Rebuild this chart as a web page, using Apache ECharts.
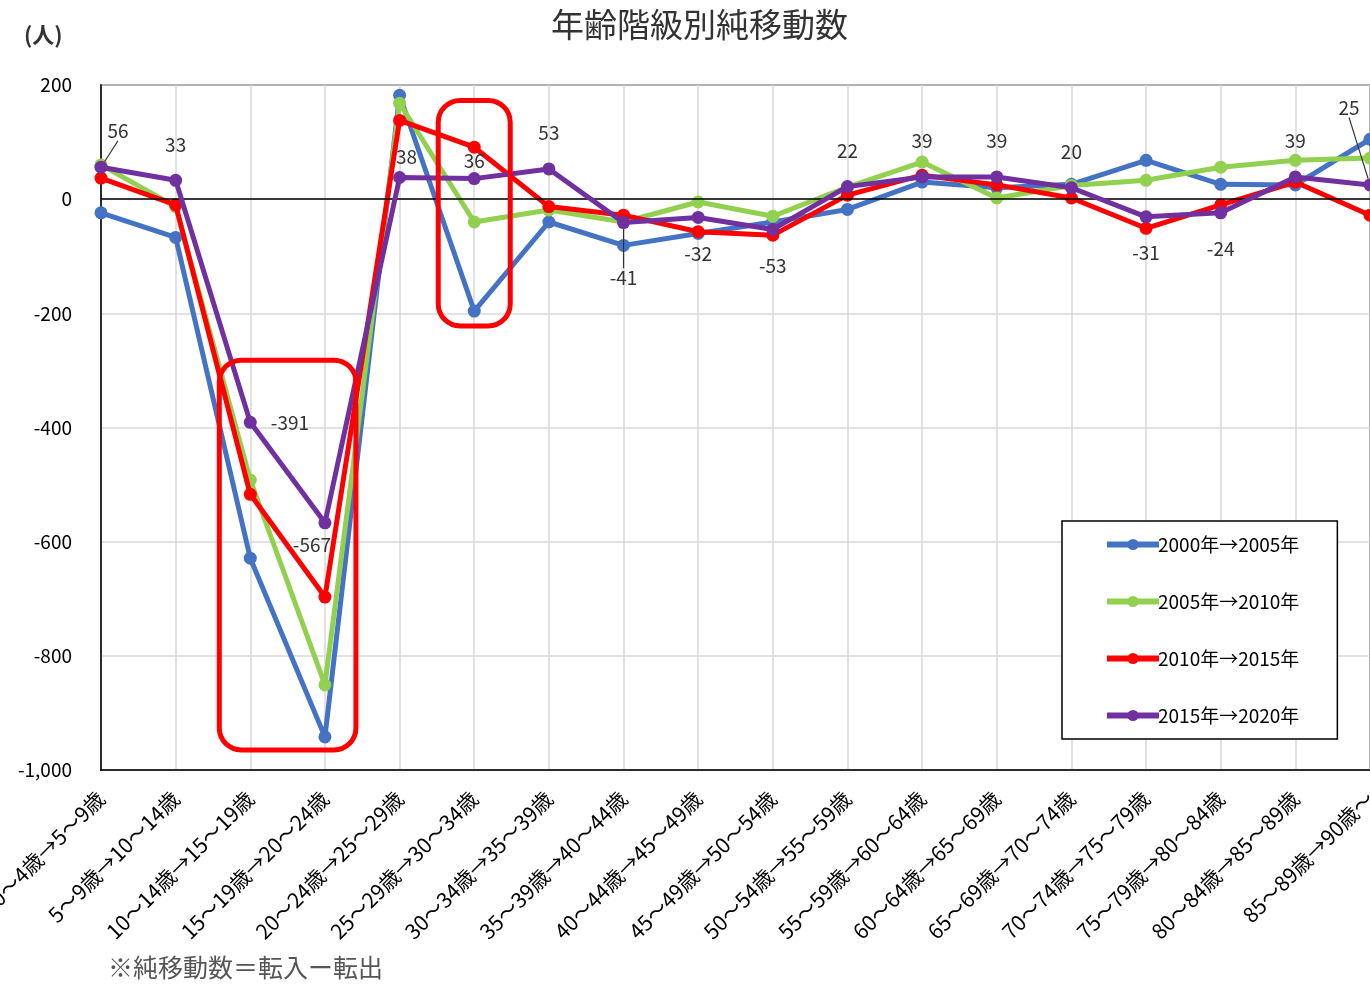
<!DOCTYPE html>
<html>
<head>
<meta charset="utf-8">
<script src="https://cdn.jsdelivr.net/npm/echarts@6/dist/echarts.min.js"></script>
<style>
html,body{margin:0;padding:0;background:#fff;}
#chart{width:1370px;height:988px;}
</style>
</head>
<body>
<div id="chart"></div>
<script>
const categories = [
  '0～4歳→5～9歳','5～9歳→10～14歳','10～14歳→15～19歳','15～19歳→20～24歳',
  '20～24歳→25～29歳','25～29歳→30～34歳','30～34歳→35～39歳','35～39歳→40～44歳',
  '40～44歳→45～49歳','45～49歳→50～54歳','50～54歳→55～59歳','55～59歳→60～64歳',
  '60～64歳→65～69歳','65～69歳→70～74歳','70～74歳→75～79歳','75～79歳→80～84歳',
  '80～84歳→85～89歳','85～89歳→90歳～'
];
const seriesNames = ['2000年→2005年','2005年→2010年','2010年→2015年','2015年→2020年'];
const values2000to2005 = [-24,-67,-629,-942,182,-196,-40,-81,-60,-40,-18,30,20,26,68,26,25,105];
const values2005to2010 = [60,-13,-492,-851,168,-40,-19,-40,-5,-30,21,65,2,24,33,56,68,72];
const values2010to2015 = [37,-10,-517,-697,138,91,-13,-28,-57,-63,7,42,25,2,-51,-10,30,-28];
const values2015to2020 = [56,33,-391,-567,38,36,53,-41,-32,-53,22,39,39,20,-31,-24,39,25];
const yTicks = {min:-1000, max:200, interval:200};

const colors = ['#4472C4','#92D050','#FF0000','#7030A0'];
const FONT = '"Noto Sans CJK JP", "Noto Sans", sans-serif';

// label adjustments for the labelled (2015→2020) series
const labelTweaks = {
  0: {dx:17, dy:0, line:true},
  2: {position:'right', distance:14},
  3: {dx:-13, dy:-14},
  4: {dx:7, dy:15},
  5: {dx:0, dy:18},
  7: {dx:0, dy:19, line:true},
  17: {dx:-21, dy:-41, line:true}
};

const purpleData = values2015to2020.map((v,i)=>{
  const t = labelTweaks[i] || {};
  const item = {value:v, label:{position: t.position || (v>=0?'top':'bottom'), distance: t.distance || 20}};
  if (t.line) item.labelLine = {show:true, lineStyle:{color:'#333', width:1.2}};
  return item;
});

const allValues = [values2000to2005, values2005to2010, values2010to2015];

const chart = echarts.init(document.getElementById('chart'), null, {renderer:'canvas'});

const series = allValues.map((vals,i)=>({
  name: seriesNames[i],
  type:'line',
  data: vals,
  symbol:'circle',
  symbolSize:13,
  lineStyle:{width:5, color:colors[i]},
  itemStyle:{color:colors[i]},
  z: 2+i
}));
series.push({
  name: seriesNames[3],
  type:'line',
  data: purpleData,
  symbol:'circle',
  symbolSize:13,
  lineStyle:{width:5, color:colors[3]},
  itemStyle:{color:colors[3]},
  z: 6,
  label:{show:true, fontSize:19, color:'#333', fontFamily:FONT, formatter: p => String(p.value)},
  labelLine:{show:false},
  labelLayout: function(params){
    const t = labelTweaks[params.dataIndex];
    if (t && (t.dx || t.dy)) return {dx: t.dx||0, dy: t.dy||0};
    return {};
  }
});
// zero line
series.push({
  type:'line', data:[], silent:true, z:1,
  markLine:{symbol:'none', silent:true, label:{show:false},
    lineStyle:{color:'#000', type:'solid', width:1.5},
    data:[{yAxis:0}]}
});

chart.setOption({
  animation:false,
  backgroundColor:'#fff',
  color: colors,
  title:{
    text:'年齢階級別純移動数', left:546, top:3,
    textStyle:{fontSize:33, fontWeight:'normal', color:'#333', fontFamily:FONT}
  },
  grid:{left:101, top:85, right:0, bottom:218, outerBoundsMode:'none', containLabel:false,
    show:true, borderColor:'#000', borderWidth:1.5, backgroundColor:'transparent'},
  legend:{
    orient:'vertical',
    left:1062, top:521,
    padding:[14,38,14,42],
    itemWidth:52, itemHeight:14, itemGap:38,
    backgroundColor:'#fff',
    borderColor:'#000', borderWidth:1.5,
    data: seriesNames,
    lineStyle:{width:6},
    textStyle:{fontSize:19, color:'#000', fontFamily:FONT, padding:[0,0,0,-6]}
  },
  xAxis:{
    type:'category', data:categories, boundaryGap:false,
    axisLine:{show:true, onZero:false, lineStyle:{color:'#000', width:1.5}},
    axisTick:{show:false},
    splitLine:{show:true, lineStyle:{color:'#d9d9d9', width:1.5}},
    axisLabel:{rotate:45, fontSize:21, color:'#000', fontFamily:FONT, margin:25, interval:0}
  },
  yAxis:{
    type:'value', min:yTicks.min, max:yTicks.max, interval:yTicks.interval,
    axisLine:{show:true, lineStyle:{color:'#000', width:1.5}},
    axisTick:{show:false},
    splitLine:{show:true, lineStyle:{color:'#d9d9d9', width:1.5}},
    axisLabel:{fontSize:19, color:'#000', fontFamily:FONT, margin:29,
      formatter: v => v.toLocaleString('en-US')}
  },
  series: series
});

// annotation boxes expressed in data terms
const boxes = [
  {from:2, to:3, top:-282, bottom:-965, pad:31},
  {from:5, to:5, top:173, bottom:-222, pad:36}
];
const graphics = boxes.map(b=>{
  const p1 = chart.convertToPixel({xAxisIndex:0, yAxisIndex:0}, [b.from, b.top]);
  const p2 = chart.convertToPixel({xAxisIndex:0, yAxisIndex:0}, [b.to, b.bottom]);
  return {
    type:'rect', z:50,
    shape:{x:p1[0]-b.pad, y:p1[1], width:(p2[0]-p1[0])+2*b.pad, height:p2[1]-p1[1], r:22},
    style:{fill:'none', stroke:'#FF0000', lineWidth:5}
  };
});
graphics.push({
  type:'text', left:24, top:24, z:60,
  style:{text:'(人)', fill:'#333', font:'bold 22px ' + FONT}
});
graphics.push({
  type:'text', left:108, top:955, z:60,
  style:{text:'※純移動数＝転入ー転出', fill:'#555', font:'25px ' + FONT}
});
chart.setOption({graphic: graphics});
</script>
</body>
</html>
